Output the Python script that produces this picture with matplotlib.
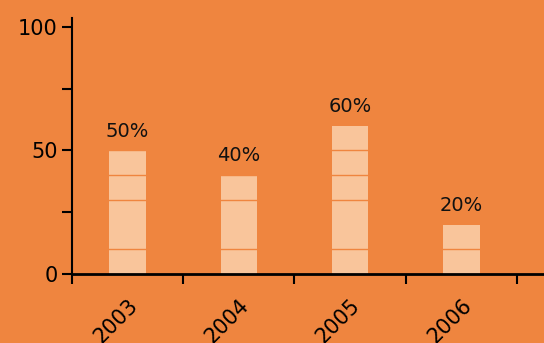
import matplotlib.pyplot as plt
import numpy as np

years = ['2003', '2004', '2005', '2006']
values = [50, 40, 60, 20]
labels = ['50%', '40%', '60%', '20%']
band_lines = [10, 30, 40, 50]

bg = '#EF853F'
bar_col = '#F9C59B'

plt.rcParams['font.family'] = ['DejaVu Sans']

fig = plt.figure(figsize=(5.44, 3.43), dpi=100, facecolor=bg)
ax = fig.add_axes([0.1324, 0.2012, 0.8676, 0.7464])
ax.set_facecolor(bg)

x = np.arange(len(years)) + 0.5
ax.bar(x, values, width=0.33, color=bar_col, zorder=2)

# thin lines across the bars in background colour (below the spines)
for yv in band_lines:
    ax.axhline(yv, color=bg, lw=1, zorder=2.2)

for xi, v, lab in zip(x, values, labels):
    ax.annotate(lab, (xi, v), xytext=(0, 7), textcoords='offset points',
                ha='center', va='bottom', fontsize=14, color='#111111')

ax.set_xlim(0, 4.243)
ax.set_ylim(0, 103.6)

ax.set_xticks(np.arange(0, 5))
ax.set_xticklabels([])
ax.set_xticks(x, minor=True)
ax.set_xticklabels(years, minor=True, rotation=45, ha='right',
                   rotation_mode='anchor', fontsize=15)
ax.tick_params(axis='x', which='minor', length=0, pad=15)
ax.tick_params(axis='x', which='major', length=7, width=1.5, direction='out')

ax.set_yticks([0, 50, 100])
ax.set_yticks([25, 75], minor=True)
ax.tick_params(axis='y', which='both', length=7, width=1.5, direction='out', labelsize=15)

for s in ['top', 'right']:
    ax.spines[s].set_visible(False)
ax.spines['left'].set_linewidth(1.5)
ax.spines['bottom'].set_linewidth(2)

fig.savefig('out.png', dpi=100, facecolor=bg)
